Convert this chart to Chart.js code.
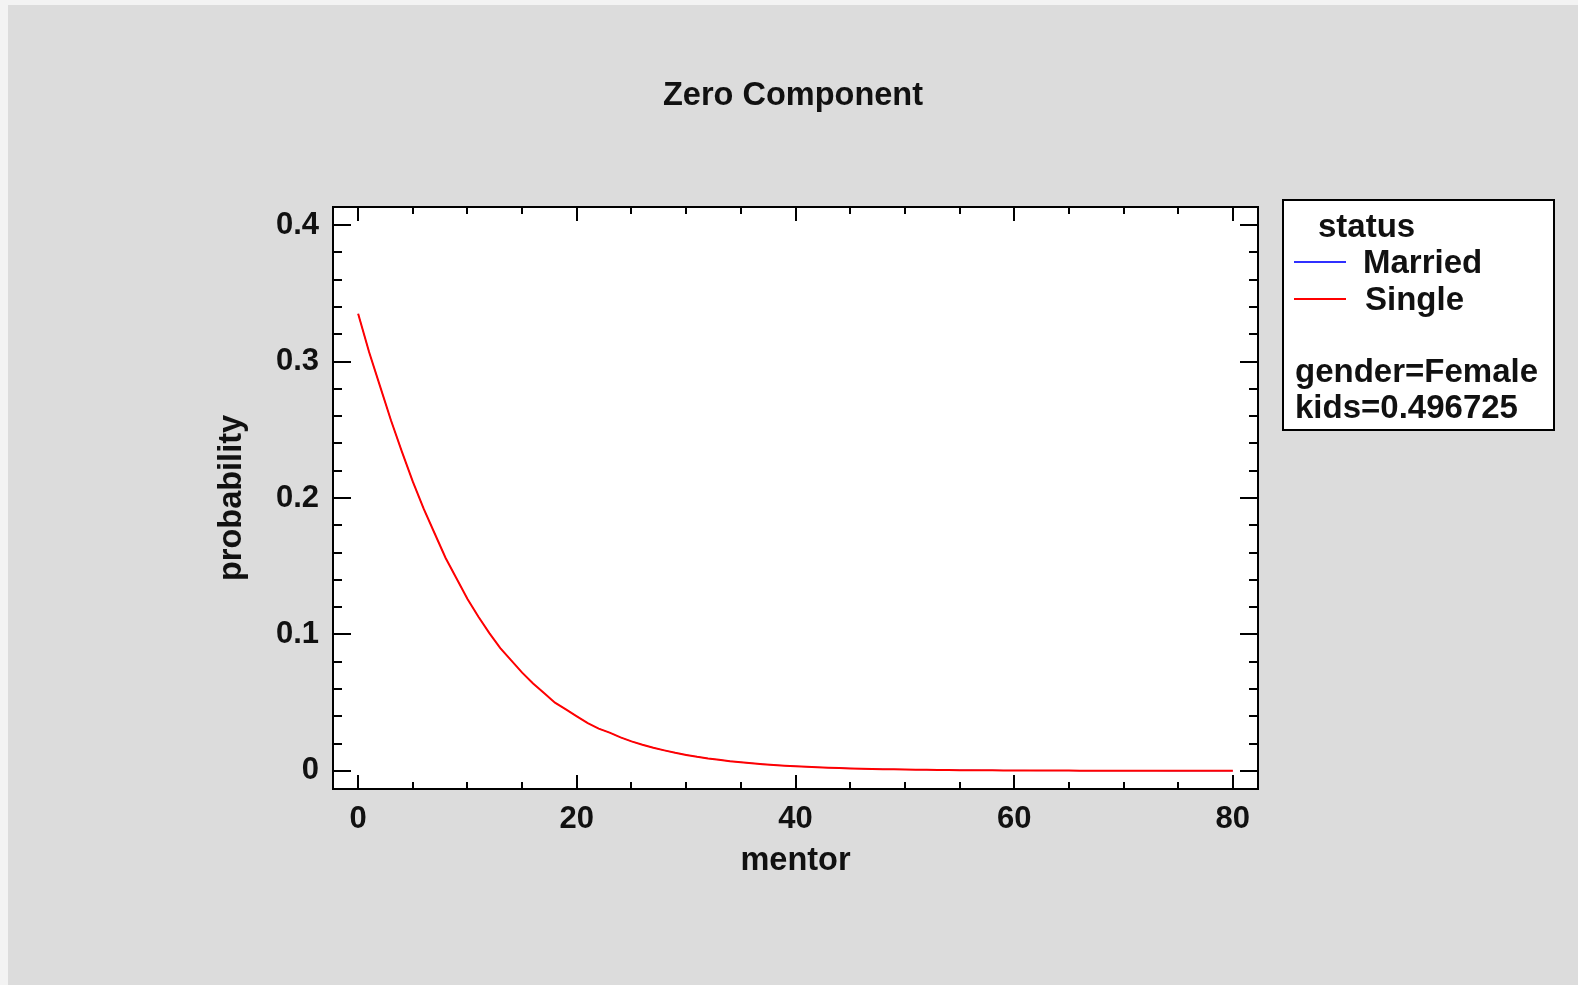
<html>
<head>
<meta charset="UTF-8">
<title>Zero Component</title>
<script src="https://cdn.jsdelivr.net/npm/chart.js@4.4.0/dist/chart.umd.min.js"></script>
<style>
  body { margin: 0; background: #f3f3f3; overflow: hidden; }
  #panel { position: absolute; left: 8px; top: 5px; width: 1570px; height: 980px; background: #dcdcdc; }
  #chart { position: absolute; left: 0; top: 0; }
</style>
<script>
  var chartTitle = "Zero Component";
  var xTitle = "mentor";
  var yTitle = "probability";
  var legendTitle = "status";
  var seriesNames = ["Married", "Single"];
  var seriesColors = ["#3030ff", "#ff0000"];
  var noteLines = ["gender=Female", "kids=0.496725"];

  var xTicks = [0, 20, 40, 60, 80];
  var yTicks = [0, 0.1, 0.2, 0.3, 0.4];
  var yTickLabels = ["0", "0.1", "0.2", "0.3", "0.4"];

  var mentor = [0, 1, 2, 3, 4, 5, 6, 7, 8, 9, 10, 11, 12, 13, 14, 15, 16, 17, 18, 19,
    20, 21, 22, 23, 24, 25, 26, 27, 28, 29, 30, 31, 32, 33, 34, 35, 36, 37, 38, 39,
    40, 41, 42, 43, 44, 45, 46, 47, 48, 49, 50, 51, 52, 53, 54, 55, 56, 57, 58, 59,
    60, 61, 62, 63, 64, 65, 66, 67, 68, 69, 70, 71, 72, 73, 74, 75, 76, 77, 78, 79, 80];

  var singleProb = [0.335, 0.307, 0.282, 0.257, 0.234, 0.212, 0.192, 0.174, 0.156, 0.141,
    0.126, 0.113, 0.101, 0.090, 0.081, 0.072, 0.064, 0.057, 0.050, 0.045,
    0.040, 0.035, 0.031, 0.028, 0.0245, 0.0216, 0.0191, 0.0169, 0.0150, 0.0132,
    0.0117, 0.0103, 0.0091, 0.0081, 0.0071, 0.0063, 0.0056, 0.0049, 0.0043, 0.0038,
    0.0034, 0.0030, 0.0026, 0.0023, 0.0021, 0.0018, 0.0016, 0.0014, 0.0012, 0.0011,
    0.0010, 0.0009, 0.0008, 0.0007, 0.0006, 0.0005, 0.0005, 0.0004, 0.0004, 0.0003,
    0.0003, 0.0003, 0.0002, 0.0002, 0.0002, 0.0002, 0.0001, 0.0001, 0.0001, 0.0001,
    0.0001, 0.0001, 0.0001, 0.0001, 0.0000, 0.0000, 0.0000, 0.0000, 0.0000, 0.0000, 0.0000];
  // status does not enter the zero model: the married curve is the same and sits under the red one
  var marriedProb = singleProb;
</script>
</head>
<body>
<div id="panel"></div>
<canvas id="chart" width="1578" height="985"></canvas>
<script>
  var FONT = "'Liberation Sans', Arial, sans-serif";

  function points(ys) {
    var out = [];
    for (var i = 0; i < mentor.length; i++) out.push({x: mentor[i], y: ys[i]});
    return out;
  }

  var framePlugin = {
    id: "frame",
    beforeDraw: function(chart) {
      var a = chart.chartArea, ctx = chart.ctx;
      ctx.save();
      ctx.fillStyle = "#ffffff";
      ctx.fillRect(a.left, a.top, a.right - a.left, a.bottom - a.top);
      ctx.restore();
    },
    afterDraw: function(chart) {
      var a = chart.chartArea, ctx = chart.ctx;
      var sx = chart.scales.x, sy = chart.scales.y;
      ctx.save();
      ctx.strokeStyle = "#000";
      ctx.lineWidth = 2;
      ctx.strokeRect(a.left, a.top, a.right - a.left, a.bottom - a.top);
      ctx.beginPath();
      // x ticks every 5, long ones at the labels
      for (var i = 0; i <= 16; i++) {
        var px = Math.round(sx.getPixelForValue(i * 5));
        var len = (i % 4 == 0) ? 14 : 7;
        ctx.moveTo(px, a.bottom); ctx.lineTo(px, a.bottom - len);
        ctx.moveTo(px, a.top); ctx.lineTo(px, a.top + len);
      }
      // y ticks every 0.02
      for (var j = 0; j <= 20; j++) {
        var py = Math.round(sy.getPixelForValue(j * 0.02));
        var ylen = (j % 5 == 0) ? 18 : 9;
        ctx.moveTo(a.left, py); ctx.lineTo(a.left + ylen, py);
        ctx.moveTo(a.right, py); ctx.lineTo(a.right - ylen, py);
      }
      ctx.stroke();

      // legend box
      var bx = 1283, by = 200, bw = 271, bh = 230;
      ctx.fillStyle = "#fff";
      ctx.fillRect(bx, by, bw, bh);
      ctx.strokeRect(bx, by, bw, bh);
      ctx.font = "bold 33px " + FONT;
      ctx.textBaseline = "middle";
      ctx.textAlign = "left";
      ctx.fillStyle = "#111";
      ctx.fillText(legendTitle, bx + 35, by + 28);
      for (var k = 0; k < seriesNames.length; k++) {
        var ly = by + 62 + k * 37;
        ctx.strokeStyle = seriesColors[k];
        ctx.lineWidth = 2;
        ctx.beginPath();
        ctx.moveTo(bx + 11, ly); ctx.lineTo(bx + 63, ly);
        ctx.stroke();
        ctx.fillStyle = "#111";
        ctx.fillText(seriesNames[k], bx + 80 + k * 2, ly + 2);
      }
      for (var n = 0; n < noteLines.length; n++) {
        ctx.fillText(noteLines[n], bx + 12, by + 173 + n * 36);
      }
      ctx.restore();
    }
  };

  var canvas = document.getElementById("chart");
  var myChart = new Chart(canvas, {
    type: "line",
    data: {
      datasets: [
        {label: seriesNames[1], data: points(singleProb), borderColor: seriesColors[1], borderWidth: 2, pointRadius: 0, tension: 0, fill: false},
        {label: seriesNames[0], data: points(marriedProb), borderColor: seriesColors[0], borderWidth: 1, pointRadius: 0, tension: 0, fill: false}
      ]
    },
    options: {
      responsive: false,
      animation: false,
      devicePixelRatio: 1,
      layout: {padding: {left: 8, right: 0, top: 0, bottom: 0}},
      plugins: {
        legend: {display: false},
        tooltip: {enabled: false},
        title: {
          display: true,
          text: chartTitle,
          color: "#111",
          font: {family: FONT, size: 32.5, weight: "bold"},
          padding: {top: 77, bottom: 91}
        }
      },
      scales: {
        x: {
          type: "linear",
          min: -2.3,
          max: 82.3,
          afterFit: function(s) { s.height = 196; },
          afterBuildTicks: function(s) { s.ticks = xTicks.map(function(v) { return {value: v}; }); },
          grid: {display: false, drawTicks: false},
          border: {display: false},
          ticks: {color: "#111", padding: 12, font: {family: FONT, size: 31, weight: "bold"}, maxRotation: 0},
          title: {display: true, text: xTitle, color: "#111", font: {family: FONT, size: 32.5, weight: "bold"}, padding: {top: 0, bottom: 104}}
        },
        y: {
          type: "linear",
          position: "left",
          min: -0.0133,
          max: 0.4133,
          afterFit: function(s) { s.width = 325; },
          afterBuildTicks: function(s) { s.ticks = yTicks.map(function(v) { return {value: v}; }); },
          grid: {display: false, drawTicks: false},
          border: {display: false},
          ticks: {
            color: "#111", padding: 14, font: {family: FONT, size: 31, weight: "bold"},
            callback: function(v) { return yTickLabels[yTicks.indexOf(v)]; }
          },
          title: {display: true, text: yTitle, color: "#111", font: {family: FONT, size: 32.5, weight: "bold"}, padding: {top: 205, bottom: 0}}
        },
        side: {
          type: "linear",
          position: "right",
          afterFit: function(s) { s.width = 320; },
          grid: {display: false, drawTicks: false},
          border: {display: false},
          ticks: {display: false}
        }
      }
    },
    plugins: [framePlugin]
  });
</script>
</body>
</html>
